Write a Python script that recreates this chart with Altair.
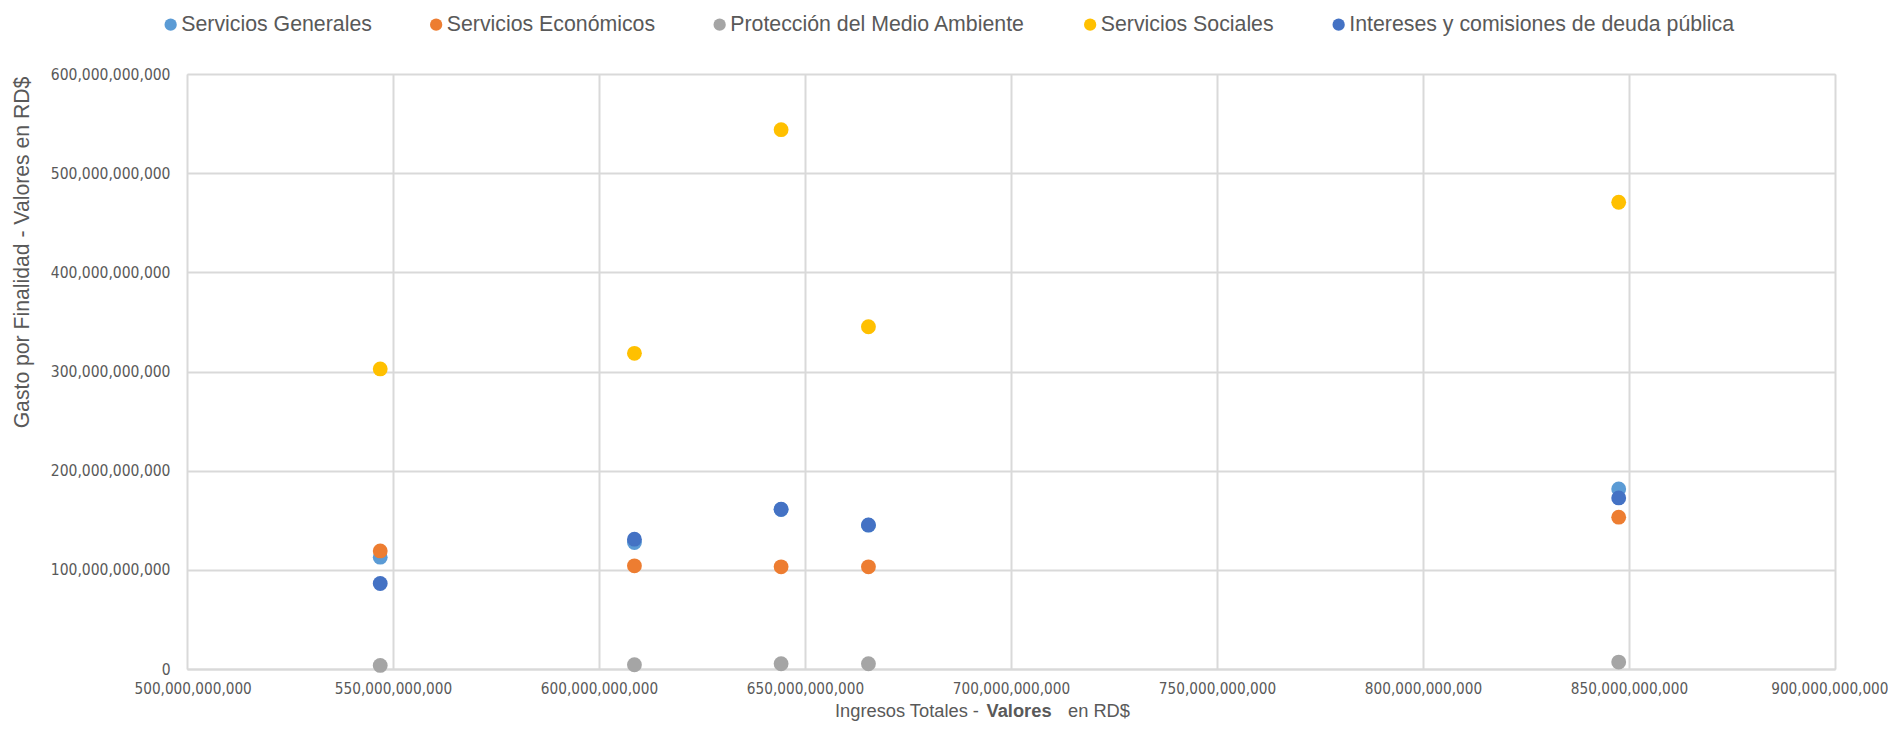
import altair as alt
import pandas as pd

series = [
    "Servicios Generales",
    "Servicios Económicos",
    "Protección del Medio Ambiente",
    "Servicios Sociales",
    "Intereses y comisiones de deuda pública",
]
colors = ["#5B9BD5", "#ED7D31", "#A5A5A5", "#FFC000", "#4472C4"]

ingresos = [546.9e9, 608.6e9, 644.2e9, 665.4e9, 847.5e9]
generales = [112.8e9, 127.5e9, 160.8e9, 145.0e9, 181.6e9]
economicos = [119.1e9, 104.0e9, 103.0e9, 103.0e9, 153.1e9]
ambiente = [3.6e9, 4.3e9, 5.3e9, 5.3e9, 7.0e9]
sociales = [302.6e9, 318.3e9, 543.9e9, 345.1e9, 470.7e9]
intereses = [86.2e9, 130.9e9, 161.1e9, 145.3e9, 172.5e9]

values = [generales, economicos, ambiente, sociales, intereses]
rows = []
for i, (name, vals) in enumerate(zip(series, values)):
    for x, y in zip(ingresos, vals):
        rows.append({"serie": name, "orden": i, "ingresos": x, "gasto": y})
df = pd.DataFrame(rows)

x_ticks = [500e9 + 50e9 * k for k in range(9)]
y_ticks = [100e9 * k for k in range(7)]

W, H = 1648, 595
label_font = "DejaVu Sans Condensed"
text_color = "#595959"

points = alt.Chart(df).mark_circle(size=220, opacity=1).encode(
    x=alt.X(
        "ingresos:Q",
        scale=alt.Scale(domain=[500e9, 900e9], nice=False, zero=False),
        axis=alt.Axis(
            values=x_ticks, format=",.0f", title=None,
            labelFont=label_font, labelFontSize=15.2, labelColor=text_color,
            labelPadding=12, ticks=False, domain=True, domainColor="#D9D9D9",
            domainWidth=2, gridColor="#D9D9D9", gridWidth=2,
            labelFlush=True, labelFlushOffset=53,
        ),
    ),
    y=alt.Y(
        "gasto:Q",
        scale=alt.Scale(domain=[0, 600e9], nice=False),
        axis=alt.Axis(
            values=y_ticks, format=",.0f",
            title="Gasto por Finalidad - Valores en RD$",
            titleFont="Liberation Sans", titleFontSize=21.2, titleFontWeight="normal",
            titleColor=text_color, titleX=-165, titleY=178, titleAlign="center",
            titleBaseline="middle", titleAngle=270,
            labelFont=label_font, labelFontSize=15.5, labelColor=text_color,
            labelPadding=17, ticks=False, domain=False,
            gridColor="#D9D9D9", gridWidth=2,
        ),
    ),
    color=alt.Color(
        "serie:N",
        scale=alt.Scale(domain=series, range=colors),
        sort=series,
        legend=alt.Legend(
            title=None, orient="none", legendX=-27, legendY=-60,
            direction="horizontal", symbolType="circle", symbolSize=150,
            labelFont="Liberation Sans", labelFontSize=21.3, labelColor=text_color,
            columnPadding=53.5, labelOffset=0, padding=0, symbolStrokeWidth=0,
            labelLimit=600,
        ),
    ),
    order=alt.Order("orden:Q"),
)

TY = 643
t1 = alt.Chart(pd.DataFrame({"t": ["Ingresos Totales -"]})).mark_text(
    align="left", baseline="alphabetic", font="Liberation Sans", fontSize=18.3,
    color=text_color,
).encode(text="t:N", x=alt.value(648), y=alt.value(TY))
t2 = alt.Chart(pd.DataFrame({"t": ["Valores"]})).mark_text(
    align="left", baseline="alphabetic", font="Liberation Sans", fontSize=18.3,
    fontWeight="bold", color=text_color,
).encode(text="t:N", x=alt.value(799.5), y=alt.value(TY))
t3 = alt.Chart(pd.DataFrame({"t": ["en RD$"]})).mark_text(
    align="left", baseline="alphabetic", font="Liberation Sans", fontSize=18.3,
    color=text_color,
).encode(text="t:N", x=alt.value(881), y=alt.value(TY))

chart = alt.layer(points, t1, t2, t3).properties(
    width=W, height=H,
    autosize=alt.AutoSizeParams(type="none"),
    padding={"left": 179, "top": 66, "right": 53, "bottom": 54},
).configure_view(stroke=None).configure(background="white")

chart.save("out.html", embed_options={"renderer": "svg", "actions": False})
